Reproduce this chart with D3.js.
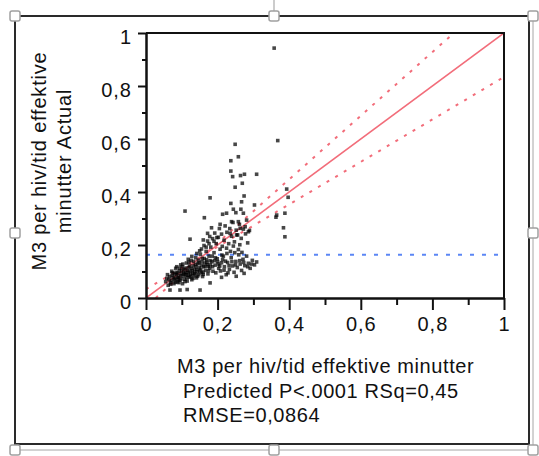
<!DOCTYPE html>
<html>
<head>
<meta charset="utf-8">
<script src="https://cdn.jsdelivr.net/npm/d3@7"></script>
<style>
  body { margin: 0; background: #fff; }
  text { font-family: "Liberation Sans", Arial, sans-serif; fill: #111; }
</style>
</head>
<body>
<svg id="chart" width="539" height="456"></svg>
<script>
// predicted vs actual
const points = [
  [0.358,0.943],[0.368,0.594],[0.249,0.580],[0.258,0.533],[0.237,0.518],[0.237,0.479],
  [0.242,0.458],[0.275,0.467],[0.264,0.462],[0.309,0.467],[0.249,0.418],[0.269,0.433],
  [0.274,0.385],[0.179,0.378],[0.237,0.357],[0.267,0.363],[0.303,0.351],[0.109,0.328],
  [0.163,0.303],[0.393,0.411],[0.397,0.380],[0.363,0.305],[0.388,0.320],[0.384,0.265],
  [0.388,0.231],[0.214,0.316],[0.244,0.335],[0.225,0.320],[0.251,0.322],[0.265,0.335],
  [0.272,0.320],[0.281,0.294],[0.258,0.288],[0.239,0.288],[0.277,0.269],[0.263,0.263],
  [0.286,0.250],[0.235,0.244],[0.253,0.238],[0.365,0.313],[0.183,0.265],[0.207,0.278],
  [0.172,0.244],[0.202,0.229],[0.123,0.222],[0.160,0.219],
  [0.067,0.030],[0.095,0.030],[0.115,0.032],[0.151,0.030],[0.179,0.057],
  [0.055,0.062],[0.062,0.048],[0.066,0.081],[0.071,0.066],[0.074,0.095],[0.078,0.054],
  [0.081,0.073],[0.083,0.112],[0.085,0.088],[0.088,0.061],[0.091,0.079],[0.093,0.102],
  [0.095,0.067],[0.097,0.125],[0.099,0.091],[0.102,0.054],[0.104,0.083],[0.106,0.108],
  [0.108,0.071],[0.111,0.097],[0.113,0.132],[0.115,0.064],[0.117,0.086],[0.119,0.115],
  [0.121,0.078],[0.123,0.101],[0.126,0.142],[0.128,0.069],[0.130,0.093],[0.132,0.121],
  [0.134,0.084],[0.136,0.108],[0.139,0.152],[0.141,0.076],[0.143,0.099],[0.145,0.129],
  [0.147,0.088],[0.149,0.114],[0.152,0.165],[0.154,0.095],[0.156,0.137],[0.158,0.081],
  [0.161,0.118],[0.163,0.149],[0.166,0.104],[0.168,0.176],[0.171,0.126],[0.173,0.091],
  [0.176,0.158],[0.178,0.113],[0.181,0.192],[0.184,0.137],[0.187,0.101],[0.190,0.171],
  [0.193,0.124],[0.196,0.205],[0.199,0.148],[0.203,0.112],[0.207,0.184],[0.211,0.133],
  [0.058,0.074],[0.068,0.058],[0.073,0.085],[0.079,0.068],[0.084,0.097],[0.087,0.076],
  [0.092,0.058],[0.096,0.084],[0.101,0.118],[0.105,0.095],[0.109,0.062],[0.112,0.088],
  [0.116,0.104],[0.120,0.135],[0.124,0.089],[0.127,0.112],[0.131,0.074],[0.135,0.097],
  [0.138,0.126],[0.142,0.107],[0.146,0.143],[0.150,0.102],[0.155,0.124],[0.159,0.098],
  [0.164,0.132],[0.169,0.144],[0.174,0.119],[0.179,0.141],[0.185,0.158],[0.191,0.141],
  [0.060,0.088],[0.064,0.070],[0.069,0.052],[0.072,0.101],[0.076,0.078],[0.080,0.091],
  [0.082,0.059],[0.086,0.118],[0.089,0.094],[0.090,0.070],[0.094,0.112],[0.098,0.072],
  [0.100,0.104],[0.103,0.128],[0.107,0.090],[0.110,0.113],[0.114,0.077],[0.118,0.096],
  [0.122,0.121],[0.125,0.082],[0.129,0.104],[0.133,0.138],[0.137,0.091],[0.140,0.118],
  [0.144,0.082],[0.148,0.133],[0.153,0.109],[0.157,0.149],[0.160,0.089],[0.165,0.119],
  [0.170,0.135],[0.175,0.103],[0.180,0.126],[0.186,0.118],[0.194,0.152],[0.200,0.137],
  [0.118,0.146],[0.128,0.157],[0.142,0.168],[0.150,0.178],[0.168,0.192],[0.176,0.205],
  [0.190,0.214],
  [0.195,0.095],[0.202,0.128],[0.208,0.102],[0.214,0.145],[0.219,0.118],[0.224,0.088],
  [0.228,0.134],[0.233,0.108],[0.238,0.152],[0.242,0.121],[0.246,0.097],[0.251,0.138],
  [0.255,0.115],[0.259,0.163],[0.263,0.128],[0.267,0.104],[0.271,0.146],[0.276,0.122],
  [0.281,0.158],[0.286,0.131],[0.291,0.112],[0.297,0.142],[0.303,0.125],[0.309,0.136],
  [0.216,0.158],[0.226,0.168],[0.236,0.176],[0.248,0.171],[0.258,0.183],[0.268,0.172],
  [0.229,0.095],[0.252,0.082],[0.274,0.093],[0.211,0.078],
  [0.206,0.121],[0.212,0.162],[0.218,0.105],[0.222,0.139],[0.232,0.122],[0.240,0.137],
  [0.250,0.125],[0.262,0.141],[0.273,0.134],[0.284,0.118],[0.295,0.128],
  [0.155,0.185],[0.162,0.198],[0.172,0.215],[0.178,0.232],[0.186,0.224],[0.192,0.245],
  [0.198,0.228],[0.205,0.262],[0.211,0.241],[0.218,0.218],[0.221,0.272],[0.226,0.248],
  [0.231,0.205],[0.234,0.262],[0.239,0.233],[0.243,0.285],[0.247,0.212],[0.252,0.256],
  [0.256,0.238],[0.261,0.278],[0.266,0.225],[0.272,0.260],[0.278,0.242],[0.284,0.208],
  [0.289,0.255],[0.213,0.195],[0.225,0.188],[0.244,0.196],[0.262,0.201]
];

const meanActual = 0.163;
const fitLine = [[0, 0], [1, 1]];
const bandA = [[0, 0.033], [1, 0.834]];
const bandB = [[0.027, 0], [0.86, 1]];

const majorTicks = [0, 0.2, 0.4, 0.6, 0.8, 1];
const minorTicks = [0.1, 0.3, 0.5, 0.7, 0.9];
const yTitle = ["M3 per hiv/tid effektive", "minutter Actual"];
const xTitle = ["M3 per hiv/tid effektive minutter", "Predicted P<.0001 RSq=0,45", "RMSE=0,0864"];

const svg = d3.select('#chart');

// selection frame + picture border
svg.append('rect')
    .attr('x', 15).attr('y', 16).attr('width', 518).attr('height', 434)
    .attr('fill', 'none').attr('stroke', '#c4c4c4').attr('stroke-width', 1.5);
svg.append('path')
    .attr('d', 'M15,16H529V444H15Z')
    .attr('fill', 'none').attr('stroke', '#2a2a2a').attr('stroke-width', 2);
svg.append('line')
    .attr('x1', 274).attr('x2', 274).attr('y1', 0).attr('y2', 11)
    .attr('stroke', '#999').attr('stroke-width', 1);

const handles = [[15,16],[274,16],[533,16],[15,233],[533,233],[15,450],[274,450],[533,450]];
svg.selectAll('rect.handle')
    .data(handles)
    .enter()
    .append('rect')
    .attr('class', 'handle')
    .attr('x', d => d[0] - 5).attr('y', d => d[1] - 5)
    .attr('width', 10).attr('height', 10).attr('rx', 2)
    .attr('fill', '#fff').attr('stroke', '#a0a0a0').attr('stroke-width', 1.5);

const pLeft = 146, pRight = 504, pTop = 33, pBottom = 298;
const xScale = d3.scaleLinear().domain([0, 1]).range([pLeft, pRight]);
const yScale = d3.scaleLinear().domain([0, 1]).range([pBottom, pTop]);

const fmt = d => d === 0 ? "0" : d === 1 ? "1" : String(d).replace(".", ",");

svg.append('defs').append('clipPath').attr('id', 'plotclip')
  .append('rect')
    .attr('x', pLeft).attr('y', pTop).attr('width', pRight - pLeft).attr('height', pBottom - pTop);

const plot = svg.append('g').attr('clip-path', 'url(#plotclip)');

// mean line
plot.append('line')
    .attr('x1', xScale(0)).attr('x2', xScale(1))
    .attr('y1', yScale(meanActual)).attr('y2', yScale(meanActual))
    .attr('stroke', '#5b86f5').attr('stroke-width', 2)
    .attr('stroke-dasharray', '4,8');

const line = d3.line().x(d => xScale(d[0])).y(d => yScale(d[1]));

plot.append('path').attr('d', line(fitLine))
    .attr('fill', 'none').attr('stroke', '#f26d7a').attr('stroke-width', 1.6);
[bandA, bandB].forEach(b => {
  plot.append('path').attr('d', line(b))
      .attr('fill', 'none').attr('stroke', '#f26d7a').attr('stroke-width', 2)
      .attr('stroke-dasharray', '3,7');
});

plot.append('g').selectAll('rect')
    .data(points)
    .enter()
    .append('rect')
    .attr('x', d => xScale(d[0]) - 1.8)
    .attr('y', d => yScale(d[1]) - 1.8)
    .attr('width', 3.6).attr('height', 3.6)
    .attr('fill', '#000').attr('fill-opacity', 0.72);

// frame of plot area
svg.append('path')
    .attr('d', `M${pLeft},${pTop}H${pRight}V${pBottom}`)
    .attr('fill', 'none').attr('stroke', '#111').attr('stroke-width', 2);

// axes
const yAxis = d3.axisLeft(yScale).tickValues(majorTicks).tickSize(8).tickSizeOuter(0)
    .tickPadding(6).tickFormat(fmt);
const yMinor = d3.axisLeft(yScale).tickValues(minorTicks).tickSize(4).tickSizeOuter(0).tickFormat('');
const xAxis = d3.axisBottom(xScale).tickValues(majorTicks).tickSize(12).tickSizeOuter(0)
    .tickPadding(7).tickFormat(fmt);
const xMinor = d3.axisBottom(xScale).tickValues(minorTicks).tickSize(7).tickSizeOuter(0).tickFormat('');

function styleAxis(g) {
  g.selectAll('.domain').attr('stroke', '#111').attr('stroke-width', 2);
  g.selectAll('.tick line').attr('stroke', '#111').attr('stroke-width', 2);
  g.selectAll('text').attr('font-size', 20).attr('letter-spacing', 1)
    .attr('font-family', '"Liberation Sans", Arial, sans-serif').attr('fill', '#111');
}

svg.append('g').attr('transform', `translate(${pLeft},0)`).call(yMinor).call(styleAxis);
svg.append('g').attr('transform', `translate(${pLeft},0)`).call(yAxis).call(styleAxis)
    .selectAll('text').attr('dy', '0.5em');
svg.append('g').attr('transform', `translate(0,${pBottom})`).call(xMinor).call(styleAxis);
svg.append('g').attr('transform', `translate(0,${pBottom})`).call(xAxis).call(styleAxis);

// titles
svg.append('g').selectAll('text')
    .data(yTitle)
    .enter()
    .append('text')
    .attr('transform', (d, i) => `translate(${46 + i * 25},161) rotate(-90)`)
    .attr('text-anchor', 'middle')
    .attr('font-size', 20)
    .attr('letter-spacing', 0.8)
    .text(d => d);

svg.append('g').selectAll('text')
    .data(xTitle)
    .enter()
    .append('text')
    .attr('x', (d, i) => i === 0 ? 177 : 183)
    .attr('y', (d, i) => 373 + i * 24.5)
    .attr('font-size', 20)
    .attr('letter-spacing', 0.6)
    .text(d => d);
</script>
</body>
</html>
